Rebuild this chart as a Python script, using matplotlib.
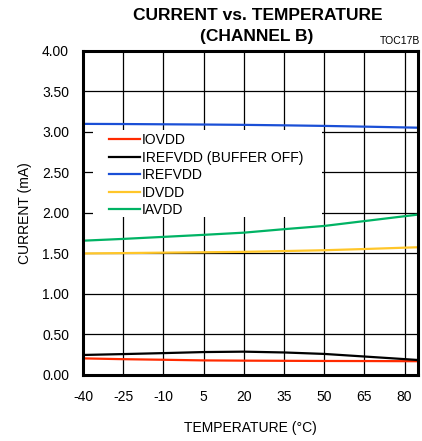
import matplotlib.pyplot as plt
from matplotlib.patches import Rectangle

plt.rcParams['font.family'] = ['Liberation Sans', 'DejaVu Sans']
plt.rcParams['axes.unicode_minus'] = False

# temperature points [degC]
temps = [-40, -25, -10, 5, 20, 35, 50, 65, 85]

# supply currents [mA]
iovdd = [0.205, 0.195, 0.188, 0.180, 0.177, 0.175, 0.173, 0.172, 0.170]
irefvdd_off = [0.247, 0.258, 0.270, 0.283, 0.288, 0.278, 0.260, 0.228, 0.185]
irefvdd = [3.100, 3.098, 3.095, 3.092, 3.088, 3.082, 3.075, 3.066, 3.053]
idvdd = [1.500, 1.505, 1.510, 1.515, 1.520, 1.530, 1.540, 1.555, 1.577]
iavdd = [1.658, 1.680, 1.705, 1.730, 1.757, 1.800, 1.840, 1.900, 1.980]

series = [
    (iovdd, '#ff2a00', 'IOVDD'),
    (irefvdd_off, '#000000', 'IREFVDD (BUFFER OFF)'),
    (irefvdd, '#1a4fd6', 'IREFVDD'),
    (idvdd, '#ffc629', 'IDVDD'),
    (iavdd, '#00b364', 'IAVDD'),
]

xticks = [-40, -25, -10, 5, 20, 35, 50, 65, 80]
yticks = [0.0, 0.5, 1.0, 1.5, 2.0, 2.5, 3.0, 3.5, 4.0]

fig = plt.figure(figsize=(4.22, 4.41), dpi=100)
ax = fig.add_axes([0.1967, 0.1497, 0.7938, 0.7347])
ax.set_axisbelow(True)

for vals, color, label in series:
    ax.plot(temps, vals, color=color, lw=1.6, label=label, zorder=3)

ax.set_xlim(-40, 85)
ax.set_ylim(0, 4)
ax.set_xticks(xticks)
ax.set_yticks(yticks)
ax.set_yticklabels(['%.2f' % v for v in yticks])
ax.grid(True, color='black', lw=0.9)
ax.tick_params(length=0, labelsize=10)
ax.tick_params(axis='x', pad=11)
ax.tick_params(axis='y', pad=10)
for sp in ax.spines.values():
    sp.set_linewidth(2.2)
    sp.set_zorder(4)

ax.set_xlabel('TEMPERATURE (°C)', fontsize=10, labelpad=12)
ax.set_ylabel('CURRENT (mA)', fontsize=10, labelpad=7)

# white box behind the legend hides the grid there
ax.add_patch(Rectangle((0.030, 0.488), 0.683, 0.268, transform=ax.transAxes,
                       facecolor='white', edgecolor='none', zorder=1.8))
leg = ax.legend(loc='upper left', bbox_to_anchor=(0.078, 0.746), fontsize=10,
                frameon=False, handlelength=2.2, handletextpad=0.15,
                labelspacing=0.25, borderpad=0, borderaxespad=0)
leg.set_zorder(5)

title_font = ['Liberation Sans Narrow', 'Liberation Sans']
fig.text(0.611, 0.965, 'CURRENT vs. TEMPERATURE', ha='center', va='center',
         fontsize=12.5, fontweight='bold', family=title_font)
fig.text(0.609, 0.918, '(CHANNEL B)', ha='center', va='center',
         fontsize=12.5, fontweight='bold', family=title_font)
fig.text(0.996, 0.907, 'TOC17B', ha='right', va='center', fontsize=7.5)

fig.savefig('out.png', dpi=100)
